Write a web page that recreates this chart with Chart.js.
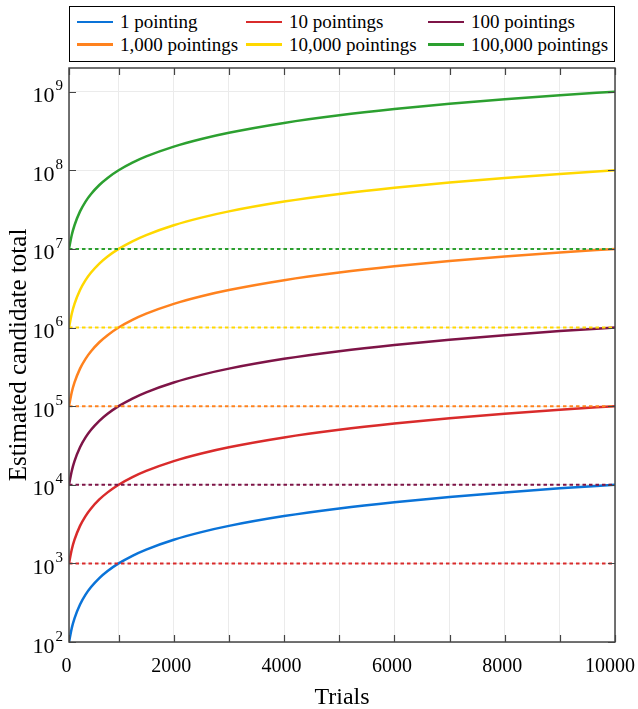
<!DOCTYPE html>
<html>
<head>
<meta charset="utf-8">
<script src="https://cdn.jsdelivr.net/npm/chart.js@4"></script>
<style>
body { margin: 0; background: #fff; }
#wrap { position: relative; width: 638px; height: 709px; }
#legend {
    position: absolute; left: 69px; top: 6px; width: 546px; height: 56px;
    box-sizing: border-box; border: 1.5px solid #000; background: #fff;
    display: grid; grid-template-columns: 169px 182px auto; align-content: start;
    padding: 4px 0 0 7px;
    font-family: "Liberation Serif", serif; font-size: 19px; color: #000;
}
.item { display: flex; align-items: center; height: 22.4px; white-space: nowrap; }
.swatch { width: 36px; height: 2.5px; margin-right: 7px; }
</style>
</head>
<body>
<div id="wrap">
    <canvas id="myChart"></canvas>
    <div id="legend"></div>
</div>
<script>
// trials (x) and estimated candidate totals
var trials = [100, 150, 200, 300, 400, 500, 650, 800, 1000, 1250, 1500, 2000, 2500, 3000, 4000, 5000, 6000, 7000, 8000, 9000, 10000];
var onePointing = [1e2, 1.5e2, 2e2, 3e2, 4e2, 5e2, 6.5e2, 8e2, 1e3, 1.25e3, 1.5e3, 2e3, 2.5e3, 3e3, 4e3, 5e3, 6e3, 7e3, 8e3, 9e3, 1e4];
var tenPointings = [1e3, 1.5e3, 2e3, 3e3, 4e3, 5e3, 6.5e3, 8e3, 1e4, 1.25e4, 1.5e4, 2e4, 2.5e4, 3e4, 4e4, 5e4, 6e4, 7e4, 8e4, 9e4, 1e5];
var hundredPointings = [1e4, 1.5e4, 2e4, 3e4, 4e4, 5e4, 6.5e4, 8e4, 1e5, 1.25e5, 1.5e5, 2e5, 2.5e5, 3e5, 4e5, 5e5, 6e5, 7e5, 8e5, 9e5, 1e6];
var thousandPointings = [1e5, 1.5e5, 2e5, 3e5, 4e5, 5e5, 6.5e5, 8e5, 1e6, 1.25e6, 1.5e6, 2e6, 2.5e6, 3e6, 4e6, 5e6, 6e6, 7e6, 8e6, 9e6, 1e7];
var tenThousandPointings = [1e6, 1.5e6, 2e6, 3e6, 4e6, 5e6, 6.5e6, 8e6, 1e7, 1.25e7, 1.5e7, 2e7, 2.5e7, 3e7, 4e7, 5e7, 6e7, 7e7, 8e7, 9e7, 1e8];
var hundredThousandPointings = [1e7, 1.5e7, 2e7, 3e7, 4e7, 5e7, 6.5e7, 8e7, 1e8, 1.25e8, 1.5e8, 2e8, 2.5e8, 3e8, 4e8, 5e8, 6e8, 7e8, 8e8, 9e8, 1e9];

var seriesLabels = ["1 pointing", "10 pointings", "100 pointings", "1,000 pointings", "10,000 pointings", "100,000 pointings"];
var seriesValues = [onePointing, tenPointings, hundredPointings, thousandPointings, tenThousandPointings, hundredThousandPointings];
var seriesColors = ["#0a73d8", "#d92b2b", "#7e1447", "#ff821e", "#ffd800", "#2ca030"];

// dotted reference levels (start value of 10 ... 100,000 pointings)
var startLevels = [1e3, 1e4, 1e5, 1e6, 1e7];
var startColors = ["#d92b2b", "#7e1447", "#ff821e", "#ffd800", "#2ca030"];

var xTicks = [100, 1000, 2000, 3000, 4000, 5000, 6000, 7000, 8000, 9000, 10000];
var xTickLabels = ["0", "", "2000", "", "4000", "", "6000", "", "8000", "", "10000"];
var yTicks = [1e2, 1e3, 1e4, 1e5, 1e6, 1e7, 1e8, 1e9];

var FONT = '"Liberation Serif", serif';

var datasets = [];
startLevels.forEach(function (level, i) {
    datasets.push({
        data: [{x: trials[0], y: level}, {x: trials[trials.length - 1], y: level}],
        borderColor: startColors[i],
        borderWidth: 2,
        borderDash: [3.5, 3],
        pointRadius: 0,
        fill: false
    });
});
seriesValues.forEach(function (values, i) {
    datasets.push({
        label: seriesLabels[i],
        data: trials.map(function (t, j) { return {x: t, y: values[j]}; }),
        borderColor: seriesColors[i],
        borderWidth: 2.5,
        pointRadius: 0,
        cubicInterpolationMode: "monotone",
        fill: false
    });
});

// legend
var legend = document.getElementById("legend");
seriesLabels.forEach(function (label, i) {
    var item = document.createElement("div");
    item.className = "item";
    item.innerHTML = '<span class="swatch" style="background:' + seriesColors[i] + '"></span>' + label;
    legend.appendChild(item);
});

var frameAndLabels = {
    id: "frameAndLabels",
    afterDraw: function (chart) {
        var ctx = chart.ctx, a = chart.chartArea, x = chart.scales.x, y = chart.scales.y;
        ctx.save();
        ctx.strokeStyle = "#444";
        ctx.lineWidth = 1.2;
        ctx.beginPath();
        xTicks.forEach(function (v) {
            var px = Math.round(x.getPixelForValue(v)) + 0.5;
            ctx.moveTo(px, a.bottom); ctx.lineTo(px, a.bottom - 7);
            ctx.moveTo(px, a.top); ctx.lineTo(px, a.top + 7);
        });
        yTicks.forEach(function (v) {
            var py = Math.round(y.getPixelForValue(v)) + 0.5;
            ctx.moveTo(a.left, py); ctx.lineTo(a.left + 7, py);
            ctx.moveTo(a.right, py); ctx.lineTo(a.right - 7, py);
        });
        ctx.stroke();
        ctx.lineWidth = 1.5;
        ctx.strokeRect(a.left, a.top, a.right - a.left, a.bottom - a.top);

        ctx.fillStyle = "#000";
        ctx.textBaseline = "alphabetic";
        // y tick labels as 10 with raised exponent
        yTicks.forEach(function (v) {
            var py = y.getPixelForValue(v);
            ctx.font = "22px " + FONT;
            ctx.textAlign = "right";
            ctx.fillText("10", a.left - 14.5, py + 10.5);
            ctx.font = "15px " + FONT;
            ctx.textAlign = "left";
            ctx.fillText(String(Math.round(Math.log10(v))), a.left - 13.5, py - 1.3);
        });
        // x tick labels, kept inside the canvas on the right
        ctx.font = "20px " + FONT;
        ctx.textAlign = "center";
        xTicks.forEach(function (v, i) {
            if (!xTickLabels[i]) return;
            var px = x.getPixelForValue(v) - 2.5;
            var half = ctx.measureText(xTickLabels[i]).width / 2;
            px = Math.min(px, chart.width - 3 - half);
            ctx.fillText(xTickLabels[i], px, a.bottom + 30);
        });
        ctx.restore();
    }
};

var ctx = document.getElementById("myChart").getContext("2d");
var myChart = new Chart(ctx, {
    type: "line",
    data: {datasets: datasets},
    plugins: [frameAndLabels],
    options: {
        responsive: true,
        maintainAspectRatio: false,
        animation: false,
        layout: {padding: {top: 68, right: 23, left: 0, bottom: 0}},
        plugins: {legend: {display: false}, tooltip: {enabled: false}},
        scales: {
            x: {
                type: "linear",
                min: 100,
                max: 10000,
                border: {display: false},
                grid: {color: "#ebebeb", lineWidth: 1, drawTicks: false},
                afterBuildTicks: function (scale) {
                    scale.ticks = xTicks.map(function (v) { return {value: v}; });
                },
                afterFit: function (scale) {
                    scale.height = 67;
                    scale.paddingLeft = 0;
                    scale.paddingRight = 0;
                },
                ticks: {display: false},
                title: {display: true, text: "Trials", color: "#000", font: {family: FONT, size: 24}, padding: {top: 0, bottom: -3}}
            },
            y: {
                type: "logarithmic",
                min: 100,
                max: 2e9,
                border: {display: false},
                grid: {color: "#ebebeb", lineWidth: 1, drawTicks: false},
                afterBuildTicks: function (scale) {
                    scale.ticks = yTicks.map(function (v) { return {value: v}; });
                },
                afterFit: function (scale) {
                    scale.width = 69;
                },
                ticks: {display: false},
                title: {display: true, text: "Estimated candidate total", color: "#000", font: {family: FONT, size: 25}, padding: {top: 4, bottom: 0}}
            }
        }
    }
});
</script>
</body>
</html>
